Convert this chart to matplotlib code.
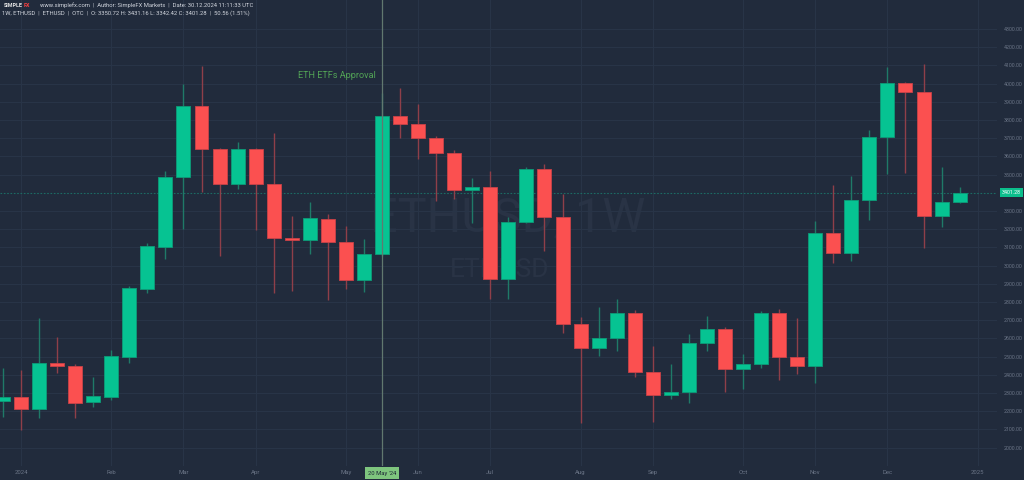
import matplotlib
matplotlib.use("Agg")
import matplotlib.pyplot as plt
import matplotlib.transforms as mtransforms
import numpy as np
import pandas as pd

# ---------------- data ----------------
first_week = "2023-12-25"
opens = [2254, 2276, 2210, 2467, 2448, 2249, 2278, 2500, 2873, 3104, 3485, 3879, 3639, 3450,
         3642, 3450, 3152, 3141, 3256, 3131, 2921, 3065, 3822, 3776, 3703, 3620, 3414, 3432,
         2925, 3240, 3532, 3265, 2681, 2546, 2604, 2738, 2417, 2287, 2307, 2575, 2652, 2430,
         2461, 2738, 2498, 2450, 3177, 3071, 3359, 3705, 4003, 3954, 3274, 3350.72]
highs = [2439, 2426, 2710, 2606, 2459, 2386, 2536, 2890, 3122, 3520, 3998, 4097, 3645, 3677,
         3648, 3727, 3274, 3351, 3284, 3218, 3146, 3947, 3974, 3886, 3712, 3635, 3483, 3521,
         3265, 3543, 3558, 3393, 2719, 2774, 2816, 2756, 2558, 2459, 2626, 2723, 2660, 2514,
         2752, 2763, 2714, 3245, 3441, 3494, 3745, 4090, 4010, 4108, 3542, 3431.16]
lows = [2170, 2097, 2161, 2408, 2161, 2225, 2262, 2467, 2851, 3035, 3201, 3406, 3054, 3419,
        3196, 2848, 2862, 3064, 2811, 2873, 2857, 3050, 3699, 3587, 3357, 3364, 3236, 2815,
        2816, 3235, 3082, 2628, 2134, 2503, 2529, 2386, 2142, 2265, 2245, 2532, 2304, 2322,
        2436, 2373, 2403, 2353, 3013, 3027, 3250, 3502, 3509, 3095, 3212, 3342.42]
closes = [2276, 2214, 2463, 2448, 2247, 2283, 2502, 2877, 3108, 3485, 3879, 3639, 3450, 3642,
          3450, 3150, 3141, 3260, 3131, 2921, 3065, 3822, 3776, 3703, 3620, 3415, 3432, 2925,
          3240, 3532, 3265, 2681, 2546, 2604, 2738, 2417, 2287, 2307, 2575, 2650, 2430, 2461,
          2738, 2498, 2450, 3177, 3071, 3359, 3705, 4003, 3954, 3274, 3348, 3401.28]

month_labels = ["2024", "Feb", "Mar", "Apr", "May", "Jun", "Jul", "Aug", "Sep", "Oct",
                "Nov", "Dec", "2025"]
month_weeks = ["2024-01-01", "2024-02-05", "2024-03-04", "2024-04-01", "2024-05-06",
               "2024-06-03", "2024-07-01", "2024-08-05", "2024-09-02", "2024-10-07",
               "2024-11-04", "2024-12-02", "2025-01-06"]
price_ticks = [2000, 2100, 2200, 2300, 2400, 2500, 2600, 2700, 2800, 2900, 3000, 3100,
               3200, 3300, 3500, 3600, 3700, 3800, 3900, 4000, 4100, 4200, 4300]
event_week = "2024-05-20"
event_label = "ETH ETFs Approval"
event_date_label = "20 May '24"
last_price = 3401.28

header1 = "www.simplefx.com  |  Author: SimpleFX Markets  |  Date: 30.12.2024 11:11:33 UTC"
header2 = ("1W, ETHUSD  |  ETHUSD  |  OTC  |  O: 3350.72 H: 3431.16 L: 3342.42 "
           "C: 3401.28  |  50.56 (1.51%)")

# ---------------- style ----------------
BG = "#212b3c"
GREEN = "#06c392"
RED = "#fb5050"
GREEN_W = "#1f7a68"
RED_W = "#8f3f49"
AX_TXT = "#6b7587"

plt.rcParams["font.family"] = ["Roboto", "DejaVu Sans"]

fig = plt.figure(figsize=(10.24, 4.8), dpi=100, facecolor=BG)
ax = fig.add_axes([0, 14 / 480, 997 / 1024, 466 / 480])
ax.set_facecolor(BG)

t0 = pd.Timestamp(first_week)
x = np.arange(len(opens))
o = np.array(opens, float)
h = np.array(highs, float)
l = np.array(lows, float)
c = np.array(closes, float)
up = c >= o

# wicks
ax.vlines(x[up], l[up], h[up], color=GREEN_W, lw=1.0, zorder=3)
ax.vlines(x[~up], l[~up], h[~up], color=RED_W, lw=1.0, zorder=3)
# bodies
bw = 0.775
bottoms = np.minimum(o, c)
heights = np.maximum(np.abs(c - o), 8)
cols = np.where(up, GREEN, RED)
edges = np.where(up, "#0d9c78", "#c94248")
ax.bar(x, heights, bottom=bottoms, width=bw, color=cols, edgecolor=edges, lw=0.6, zorder=4)

# axes ranges
ax.set_xlim(-0.163, 55.07)
ax.set_ylim(1899, 4459)

# month ticks
mpos = [(pd.Timestamp(d) - t0).days / 7 for d in month_weeks]
ax.set_xticks(mpos)
ax.set_xticklabels(month_labels)
ax.tick_params(axis="x", length=0, pad=3, labelsize=4.3, labelcolor=AX_TXT)
ax.yaxis.tick_right()
ax.set_yticks(price_ticks)
ax.set_yticklabels([f"{v:.2f}" for v in price_ticks])
ax.tick_params(axis="y", length=0, pad=5, labelsize=3.8, labelcolor=AX_TXT)
ax.grid(True, color="#283447", lw=0.8, zorder=0)
for s in ax.spines.values():
    s.set_visible(False)

# watermarks
ax.text(0.5095, 0.530, "ETHUSD, 1W", transform=ax.transAxes, ha="center", va="center",
        fontsize=35, color="#293345", zorder=1)
ax.text(0.5015, 0.4206, "ETHUSD", transform=ax.transAxes, ha="center", va="center",
        fontsize=19, color="#293345", zorder=1)

# last price line and label
ax.axhline(last_price, color="#1c6b64", lw=0.8, ls=(0, (1.5, 1.5)), zorder=2)
trans_y = mtransforms.blended_transform_factory(ax.transAxes, ax.transData)
ax.text(1.0 + 5 / 997, last_price, f"{last_price:.2f}", transform=trans_y, ha="left",
        va="center", fontsize=3.8, color="white", clip_on=False, zorder=10,
        bbox=dict(boxstyle="square,pad=0.35", fc="#0cbf8c", ec="none"))

# event crosshair
ev = (pd.Timestamp(event_week) - t0).days / 7
ax.axvline(ev, color="#61786f", lw=0.9, zorder=5)
ax.text(0.377, 0.837, event_label, transform=ax.transAxes, ha="right", va="center",
        fontsize=6.6, color="#52a356", zorder=6)
trans_x = mtransforms.blended_transform_factory(ax.transData, ax.transAxes)
ax.text(ev, -14 / 466 * 0.5, event_date_label, transform=trans_x, ha="center", va="center",
        fontsize=4.2, color="#1b2535", clip_on=False, zorder=10,
        bbox=dict(boxstyle="square,pad=0.55", fc="#7ec57e", ec="none"))

# header
fig.text(4 / 1024, 1 - 5.5 / 480, "SIMPLE", fontsize=3.9, fontweight="bold", color="#e8e8e8",
         ha="left", va="center")
fig.text(23.5 / 1024, 1 - 5.5 / 480, "FX", fontsize=3.9, fontweight="bold", color="#ff4040",
         ha="left", va="center")
fig.text(40 / 1024, 1 - 5.5 / 480, header1, fontsize=4.2, color="#d2d6de", ha="left",
         va="center")
fig.text(2 / 1024, 1 - 13.5 / 480, header2, fontsize=4.2, color="#d2d6de", ha="left",
         va="center")

fig.savefig("out.png", dpi=100, facecolor=BG)
